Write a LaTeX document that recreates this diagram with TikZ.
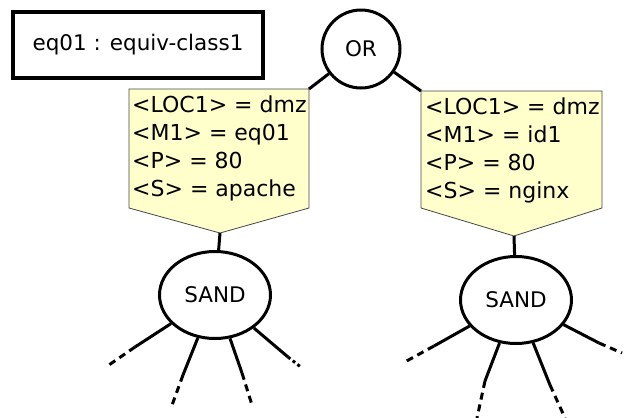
\documentclass[tikz,border=0pt]{standalone}
\usepackage{fontspec}
\setmainfont{DejaVu Sans}
\usetikzlibrary{shapes.geometric}
\definecolor{notecol}{RGB}{255,255,204}
\definecolor{noteline}{RGB}{70,70,70}

\begin{document}
\begin{tikzpicture}[x=1pt,y=-1pt,
    every node/.style={font=\fontsize{21.5}{27.7}\selectfont},
    gate/.style={draw=black,line width=3pt,circle,minimum size=78pt,inner sep=0pt},
    sand/.style={draw=black,line width=3pt,ellipse,minimum width=111pt,minimum height=87pt,inner sep=0pt},
    edge/.style={black,line width=3pt},
    leaf/.style={black,line width=3pt,dash pattern=on 7pt off 5pt},
    note/.style={fill=notecol,draw=noteline,line width=0.8pt},
    notetext/.style={anchor=north west,align=left,inner sep=0pt,font=\fontsize{22}{27.7}\selectfont}]
                    \useasboundingbox (0,0) rectangle (625,418);

                    % legend
                    \node[draw=black,line width=3.5pt,minimum width=250pt,minimum height=66pt] (cls) at (138,45) {eq01 : equiv-class1};

                    \node[gate] (or) at (361,49) {OR};

                    % left branch
                    \coordinate (n1ne) at (309,89);
                    \coordinate (n1tip) at (220,233);
                    \draw[note] (129,89) -- (n1ne) -- (309,208) -- (n1tip) -- (129,208) -- cycle;
                    \node[notetext] (n1) at (132,96) {<LOC1> = dmz\\<M1> = eq01\\<P> = 80\\<S> = apache};

                    % right branch
                    \coordinate (n2nw) at (421,91);
                    \coordinate (n2tip) at (514,236);
                    \draw[note] (n2nw) -- (602,91) -- (602,208) -- (n2tip) -- (421,208) -- cycle;
                    \node[notetext] (n2) at (425,98) {<LOC1> = dmz\\<M1> = id1\\<P> = 80\\<S> = nginx};

                    \node[sand] (sand1) at (215,295) {SAND};
                    \node[sand] (sand2) at (516,300) {SAND};

                    \draw[edge] (or) -- (n1ne);
                    \draw[edge] (or) -- (n2nw);
                    \draw[edge] (n1tip) -- (sand1);
                    \draw[edge] (n2tip) -- (sand2);

                    % leaves of sand1
                    \coordinate (a1) at (135,347);
                    \coordinate (a2) at (183,375);
                    \coordinate (a3) at (242,373);
                    \coordinate (a4) at (288,357);
                    \coordinate (e1) at (106,367);
                    \coordinate (e2) at (171,408);
                    \coordinate (e3) at (252,405);
                    \coordinate (e4) at (302,368);
                    \draw[edge] (sand1) -- (a1);
                    \draw[edge] (sand1) -- (a2);
                    \draw[edge] (sand1) -- (a3);
                    \draw[edge] (sand1) -- (a4);
                    \draw[leaf] (a1) -- (e1);
                    \draw[leaf] (a2) -- (e2);
                    \draw[leaf] (a3) -- (e3);
                    \draw[leaf,dash pattern=on 3pt off 3pt] (a4) -- (e4);

                    % leaves of sand2
                    \coordinate (b1) at (434,346);
                    \coordinate (b2) at (485,381);
                    \coordinate (b3) at (550,385);
                    \coordinate (b4) at (599,343);
                    \coordinate (f1) at (403,363);
                    \coordinate (f2) at (477,418);
                    \coordinate (f3) at (565,418);
                    \coordinate (f4) at (622,353);
                    \draw[edge] (sand2) -- (b1);
                    \draw[edge] (sand2) -- (b2);
                    \draw[edge] (sand2) -- (b3);
                    \draw[edge] (sand2) -- (b4);
                    \draw[leaf] (b1) -- (f1);
                    \draw[leaf] (b2) -- (f2);
                    \draw[leaf] (b3) -- (f3);
                    \draw[leaf] (b4) -- (f4);
\end{tikzpicture}
\end{document}
